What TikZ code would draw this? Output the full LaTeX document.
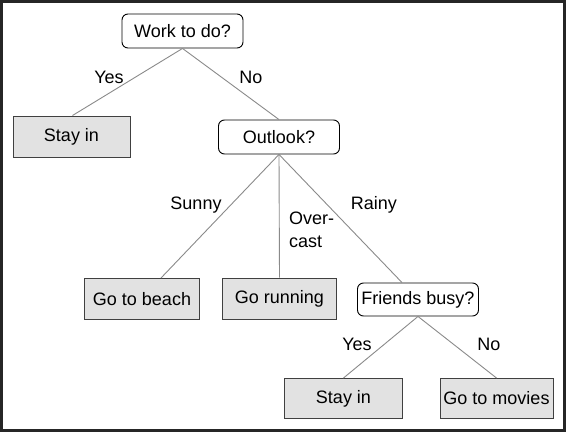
\documentclass[tikz,border=0pt]{standalone}
\usepackage{fontspec}
\setmainfont{Liberation Sans}
\usepackage{tikz}
\usetikzlibrary{positioning}

\definecolor{leafgray}{HTML}{E2E2E2}
\definecolor{edgegray}{HTML}{8A8A8A}

\begin{document}
\begin{tikzpicture}[x=1pt,y=-1pt]

\tikzset{question/.style={
		draw=black,
		rounded corners=6pt,
		line width=0.9pt,
		minimum width=121pt,
		minimum height=34pt,
		inner sep=3pt,
		font=\fontsize{18}{20}\selectfont
	},
	leaf/.style={
		draw=black!75,
		fill=leafgray,
		line width=1pt,
		minimum width=115pt,
		minimum height=41pt,
		inner sep=3pt,
		font=\fontsize{18}{20}\selectfont
	},
	answer/.style={
		inner sep=0pt,
		align=left,
		font=\fontsize{18}{23}\selectfont
	},
	branch/.style={
		draw=edgegray,
		line width=0.9pt
	}
}

\useasboundingbox (0,0) rectangle (566,432);
\draw[line width=2.6pt, black!85] (1.3,1.3) rectangle (564.7,430.7);

% questions
\node[question] (work) at (182.5,31) {Work to do?};
\node[question] (outlook) at (279,137) {Outlook?};
\node[question, minimum height=33pt] (friends) at (418,299.5) {Friends busy?};

% leaves
\node[leaf, minimum width=117pt] (stayA) at (71.5,136.5) {Stay in};
\node[leaf] (beach) at (142,299) {Go to beach};
\node[leaf, minimum width=114pt] (running) at (279.5,298.5) {Go running};
\node[leaf, minimum width=118pt, minimum height=40pt] (stayB) at (343.5,398.5) {Stay in};
\node[leaf, minimum width=113pt, minimum height=40pt] (movies) at (496.5,398.5) {Go to movies};

% branches
\draw[branch] (work.south) -- ([xshift=1pt]stayA.north);
\draw[branch] (work.south) -- (outlook.north);
\draw[branch] (outlook.south) -- ([xshift=19pt]beach.north);
\draw[branch] (outlook.south) -- (running.north);
\draw[branch] (outlook.south) -- ([xshift=-16pt]friends.north);
\draw[branch] (friends.south) -- (stayB.north);
\draw[branch] (friends.south) -- (movies.north);

% labels
\node[answer] (yesA) at (109,77) {Yes};
\node[answer] (noA) at (251,77) {No};
\node[answer] (sunny) at (196,205) {Sunny};
\node[answer, anchor=north west] (overcast) at (289,212) {Over-\\cast};
\node[answer] (rainy) at (374,205) {Rainy};
\node[answer] (yesB) at (357,344) {Yes};
\node[answer] (noB) at (489,344) {No};

\end{tikzpicture}
\end{document}
